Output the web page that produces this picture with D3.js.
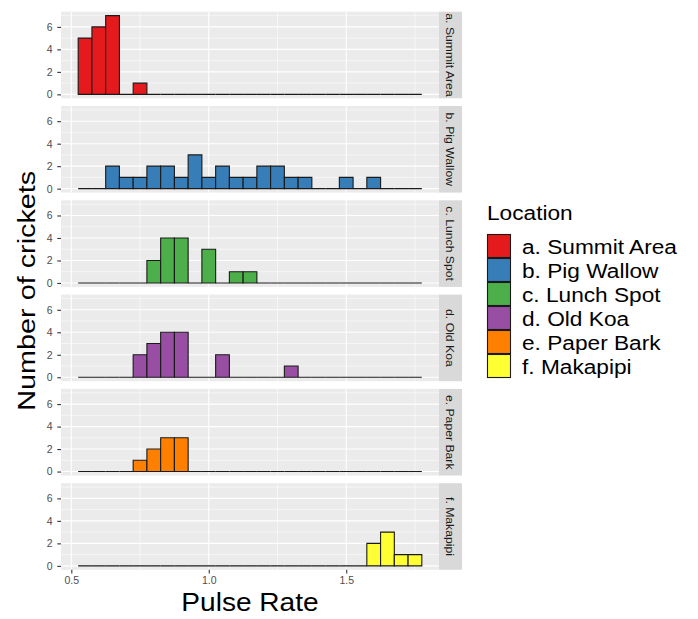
<!DOCTYPE html>
<html>
<head>
<meta charset="utf-8">
<script src="https://cdn.jsdelivr.net/npm/d3@7"></script>
<style>
  body { margin: 0; background: #fff; }
  svg { display: block; font-family: "Liberation Sans", Arial, Helvetica, sans-serif; }
</style>
</head>
<body>
<svg id="chart" width="698" height="619"></svg>
<script>
// Histogram bins: width 0.05, centres 0.55 … 1.75
const binWidth = 0.05;
const binCenters = [0.55, 0.60, 0.65, 0.70, 0.75, 0.80, 0.85, 0.90, 0.95, 1.00,
                    1.05, 1.10, 1.15, 1.20, 1.25, 1.30, 1.35, 1.40, 1.45, 1.50,
                    1.55, 1.60, 1.65, 1.70, 1.75];

const locations = ["a. Summit Area", "b. Pig Wallow", "c. Lunch Spot",
                   "d. Old Koa", "e. Paper Bark", "f. Makapipi"];
const locationColors = ["#E41A1C", "#377EB8", "#4DAF4A", "#984EA3", "#FF7F00", "#FFFF33"];

// Counts per bin for each location
const summitArea = [5,6,7,0,1,0,0,0,0,0,0,0,0,0,0,0,0,0,0,0,0,0,0,0,0];
const pigWallow  = [0,0,2,1,1,2,2,1,3,1,2,1,1,2,2,1,1,0,0,1,0,1,0,0,0];
const lunchSpot  = [0,0,0,0,0,2,4,4,0,3,0,1,1,0,0,0,0,0,0,0,0,0,0,0,0];
const oldKoa     = [0,0,0,0,2,3,4,4,0,0,2,0,0,0,0,1,0,0,0,0,0,0,0,0,0];
const paperBark  = [0,0,0,0,1,2,3,3,0,0,0,0,0,0,0,0,0,0,0,0,0,0,0,0,0];
const makapipi   = [0,0,0,0,0,0,0,0,0,0,0,0,0,0,0,0,0,0,0,0,0,2,3,1,1];
const countsByLocation = [summitArea, pigWallow, lunchSpot, oldKoa, paperBark, makapipi];

const xTicks = [0.5, 1.0, 1.5];
const xMinor = [0.75, 1.25, 1.75];
const yTicks = [0, 2, 4, 6];
const yMinor = [1, 3, 5, 7];

const svg = d3.select("#chart");

const panelLeft = 61, panelRight = 439;
const panelTop0 = 11.7, panelH = 86.6, panelStep = 94.3;
const stripW = 23;
const widen = 1.08;   // text is set slightly wider than the base face

const xMin = binCenters[0] - binWidth / 2, xMax = binCenters[binCenters.length - 1] + binWidth / 2;
const xPad = (xMax - xMin) * 0.05;
const x = d3.scaleLinear().domain([xMin - xPad, xMax + xPad]).range([panelLeft, panelRight]);

const yMaxVal = 7;
const yPad = yMaxVal * 0.05;

locations.forEach((loc, i) => {
  const top = panelTop0 + i * panelStep;
  const y = d3.scaleLinear().domain([-yPad, yMaxVal + yPad]).range([top + panelH, top]);
  const g = svg.append("g");

  // panel background
  g.append("rect").attr("x", panelLeft).attr("y", top)
    .attr("width", panelRight - panelLeft).attr("height", panelH).attr("fill", "#EBEBEB");

  // minor grid
  g.selectAll(".ymin").data(yMinor).join("line")
    .attr("x1", panelLeft).attr("x2", panelRight)
    .attr("y1", d => y(d)).attr("y2", d => y(d))
    .attr("stroke", "#fff").attr("stroke-width", 0.55);
  g.selectAll(".xmin").data(xMinor).join("line")
    .attr("y1", top).attr("y2", top + panelH)
    .attr("x1", d => x(d)).attr("x2", d => x(d))
    .attr("stroke", "#fff").attr("stroke-width", 0.55);
  // major grid
  g.selectAll(".ymaj").data(yTicks).join("line")
    .attr("x1", panelLeft).attr("x2", panelRight)
    .attr("y1", d => y(d)).attr("y2", d => y(d))
    .attr("stroke", "#fff").attr("stroke-width", 1.1);
  g.selectAll(".xmaj").data(xTicks).join("line")
    .attr("y1", top).attr("y2", top + panelH)
    .attr("x1", d => x(d)).attr("x2", d => x(d))
    .attr("stroke", "#fff").attr("stroke-width", 1.1);

  // histogram bars (outlined as paths so empty bins still show their baseline)
  const counts = countsByLocation[i];
  g.selectAll(".bar").data(binCenters.map((c, k) => ({ c, n: counts[k] }))).join("path")
    .attr("d", d => {
      const x0 = x(d.c - binWidth / 2), x1 = x(d.c + binWidth / 2);
      const y0 = y(0), y1 = y(d.n);
      return `M${x0},${y0}V${y1}H${x1}V${y0}Z`;
    })
    .attr("fill", locationColors[i])
    .attr("stroke", "#1a1a1a").attr("stroke-width", 1.1)
    .attr("stroke-linejoin", "miter");

  // y axis
  const yAxis = d3.axisLeft(y).tickValues(yTicks).tickSize(3.7).tickPadding(4.6).tickFormat(d3.format("d"));
  const ya = g.append("g").attr("transform", `translate(${panelLeft},0)`).call(yAxis);
  ya.select(".domain").remove();
  ya.selectAll(".tick line").attr("stroke", "#333333").attr("stroke-width", 1.1);
  ya.selectAll(".tick text").attr("fill", "#4D4D4D").style("font-size", "10.5px");

  // facet strip
  g.append("rect").attr("x", panelRight).attr("y", top)
    .attr("width", stripW).attr("height", panelH).attr("fill", "#D9D9D9");
  g.append("text")
    .attr("transform", `translate(${panelRight + stripW / 2},${top + panelH / 2}) rotate(90) scale(${widen},1)`)
    .attr("text-anchor", "middle").attr("dy", "0.36em")
    .attr("fill", "#1A1A1A").style("font-size", "11.3px")
    .text(loc);

  // x axis on bottom panel
  if (i === locations.length - 1) {
    const xAxis = d3.axisBottom(x).tickValues(xTicks).tickSize(3.7).tickPadding(2.8).tickFormat(d3.format(".1f"));
    const xa = g.append("g").attr("transform", `translate(0,${top + panelH})`).call(xAxis);
    xa.select(".domain").remove();
    xa.selectAll(".tick line").attr("stroke", "#333333").attr("stroke-width", 1.1);
    xa.selectAll(".tick text").attr("fill", "#4D4D4D").style("font-size", "10.5px");
  }
});

// axis titles
const panelsBottom = panelTop0 + 5 * panelStep + panelH;
svg.append("text")
  .attr("transform", `translate(${(panelLeft + panelRight) / 2},611) scale(${widen},1)`)
  .attr("text-anchor", "middle").attr("fill", "#000").style("font-size", "26px")
  .text("Pulse Rate");
svg.append("text")
  .attr("transform", `translate(35,${(panelTop0 + panelsBottom) / 2}) rotate(-90) scale(1.2,1)`)
  .attr("text-anchor", "middle").attr("fill", "#000").style("font-size", "24px")
  .text("Number of crickets");

// legend
const legend = svg.append("g").attr("transform", "translate(487,0)");
legend.append("text").attr("transform", `translate(0,220) scale(${widen},1)`)
  .attr("fill", "#000").style("font-size", "21px").text("Location");
legend.selectAll(".key").data(locations).join("rect")
  .attr("x", 0.5).attr("y", (d, k) => 234.5 + k * 24)
  .attr("width", 23).attr("height", 23)
  .attr("fill", (d, k) => locationColors[k])
  .attr("stroke", "#1a1a1a").attr("stroke-width", 1.1);
legend.selectAll(".lab").data(locations).join("text")
  .attr("transform", (d, k) => `translate(35,${253.5 + k * 24}) scale(${widen},1)`)
  .attr("fill", "#000").style("font-size", "21px")
  .text(d => d);
</script>
</body>
</html>
